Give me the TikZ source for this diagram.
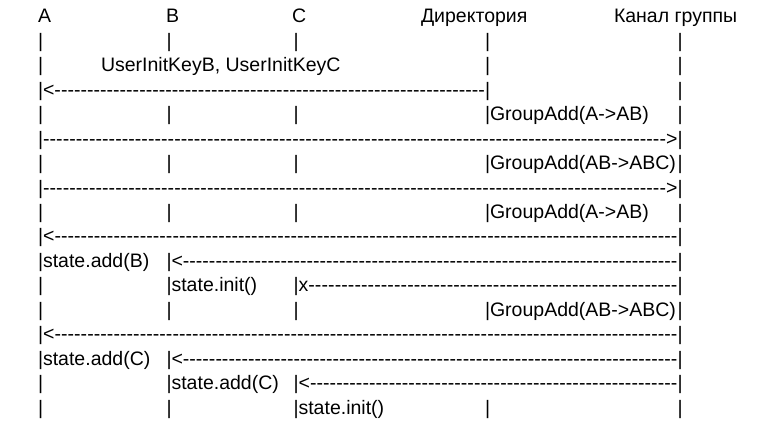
\documentclass[tikz,border=0pt]{standalone}
\usepackage{fontspec}
\setmainfont{Liberation Sans}
\usetikzlibrary{calc}
\tikzset{
	txt/.style = {inner sep = 0pt, outer sep = 0pt, anchor = base west, font = \fontsize{19.5}{24}\selectfont},
}
% dashed text arrows of a given width
\newcommand{\arrl}[1]{\hbox to #1{<\xleaders\hbox{-}\hfill}}
\newcommand{\arrr}[1]{\hbox to #1{\xleaders\hbox{-}\hfill>}}
\newcommand{\arrx}[1]{\hbox to #1{x\xleaders\hbox{-}\hfill}}
% lifeline columns
\def\xA{38}
\def\xB{166.5}
\def\xC{293.5}
\def\xD{485}
\def\xK{677.5}
\begin{document}
\begin{tikzpicture}[x = 1pt, y = -1pt]
	\useasboundingbox (0,0) rectangle (776,422);
	\node [txt] (hA) at (38,23) {A};
	\node [txt] (hB) at (166,23) {B};
	\node [txt] (hC) at (292,23) {C};
	\node [txt] (hD) at (421,23) {Директория};
	\node [txt] (hK) at (614,23) {Канал группы};
	\foreach \r/\l in {2/{A,B,C,D,K},3/{A,D,K},4/{A,D,K},5/{A,B,C,D,K},6/{A,K},7/{A,B,C,D,K},8/{A,K},9/{A,B,C,D,K},10/{A,K},11/{A,B,K},12/{A,B,C,K},13/{A,B,C,D,K},14/{A,K},15/{A,B,K},16/{A,B,C,K},17/{A,B,C,D,K}}{
	\foreach \c in \l{
	\node [txt] (\c\r) at (\csname x\c\endcsname,{23+24.44*(\r-1)}) {|};
	}
	}
	\node [txt] (keys) at (101,{23+24.44*2}) {UserInitKeyB, UserInitKeyC};
	\node [txt] (g5) at (D5.base east) {GroupAdd(A->AB)};
	\node [txt] (g7) at (D7.base east) {GroupAdd(AB->ABC)};
	\node [txt] (g9) at (D9.base east) {GroupAdd(A->AB)};
	\node [txt] (g13) at (D13.base east) {GroupAdd(AB->ABC)};
	\node [txt] (s11) at (A11.base east) {state.add(B)};
	\node [txt] (s12) at (B12.base east) {state.init()};
	\node [txt] (s15) at (A15.base east) {state.add(C)};
	\node [txt] (s16) at (B16.base east) {state.add(C)};
	\node [txt] (s17) at (C17.base east) {state.init()};
	\foreach \s/\e/\r/\k in {A/D/4/l,A/K/6/r,A/K/8/r,A/K/10/l,B/K/11/l,C/K/12/x,A/K/14/l,B/K/15/l,C/K/16/l}{
	\path let \p1 = ($(\e\r.base west)-(\s\r.base east)$) in node [txt] (m\r) at (\s\r.base east) {\csname arr\k\endcsname{\x1}};
	}
\end{tikzpicture}
\end{document}
